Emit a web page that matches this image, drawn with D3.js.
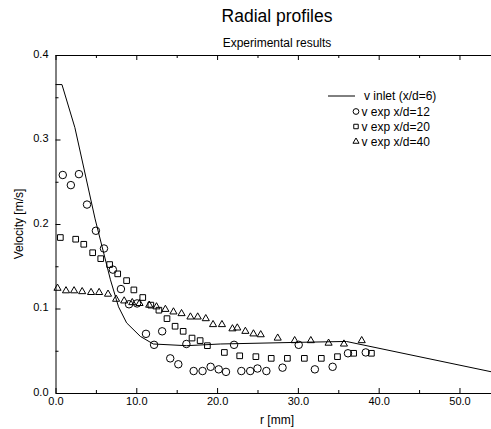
<!DOCTYPE html>
<html>
<head>
<meta charset="utf-8">
<script src="https://cdn.jsdelivr.net/npm/d3@7"></script>
<style>
  body { margin: 0; background: #fff; }
  svg { font-family: "Liberation Sans", Arial, sans-serif; }
</style>
</head>
<body>
<div id="chart"></div>
<script>
// Perfil de entrada (linea continua), x/d = 6
const rInlet = [0, 0.8, 2.4, 4.9, 6.8, 7.8, 8.8, 10.5, 12.1, 16.2, 20.4, 30.3, 36.0, 54.0];
const vInlet = [0.365, 0.365, 0.314, 0.206, 0.134, 0.102, 0.083, 0.067, 0.058, 0.056, 0.058, 0.060, 0.061, 0.025];

// Datos experimentales x/d = 12 (circulos)
const rExp12 = [0.9, 1.9, 2.9, 3.9, 5.0, 6.0, 7.1, 8.1, 9.1, 10.1, 11.2, 12.2, 13.2, 14.2, 15.2, 16.2,
  17.1, 18.2, 19.2, 20.2, 21.1, 22.1, 23.0, 24.1, 25.0, 26.1, 28.1, 30.1, 32.1, 34.3, 36.2, 38.4];
const vExp12 = [0.258, 0.246, 0.259, 0.223, 0.192, 0.171, 0.146, 0.123, 0.105, 0.106, 0.070, 0.057, 0.073, 0.041, 0.034, 0.058,
  0.026, 0.026, 0.031, 0.028, 0.025, 0.057, 0.026, 0.026, 0.029, 0.026, 0.030, 0.057, 0.028, 0.031, 0.047, 0.048];

// Datos experimentales x/d = 20 (cuadrados)
const rExp20 = [0.6, 2.5, 3.5, 4.6, 5.6, 6.7, 7.7, 8.8, 9.7, 10.8, 11.8, 12.8, 13.8, 14.8, 15.8, 16.9, 17.9, 18.8,
  20.9, 22.8, 24.8, 26.7, 28.7, 30.8, 32.9, 34.9, 36.9, 39.1];
const vExp20 = [0.184, 0.182, 0.176, 0.166, 0.159, 0.152, 0.141, 0.133, 0.122, 0.113, 0.104, 0.098, 0.088, 0.079, 0.073, 0.065, 0.062, 0.056,
  0.048, 0.044, 0.043, 0.041, 0.041, 0.041, 0.041, 0.043, 0.047, 0.047];

// Datos experimentales x/d = 40 (triangulos)
const rExp40 = [0.25, 1.3, 2.3, 3.3, 4.4, 5.4, 6.5, 7.5, 8.5, 9.5, 10.4, 11.6, 12.5, 13.6, 14.6, 15.6, 16.7, 17.6, 18.6,
  19.5, 20.6, 21.9, 22.5, 23.5, 24.5, 25.4, 27.5, 29.6, 31.6, 33.8, 35.7, 37.9];
const vExp40 = [0.124, 0.121, 0.121, 0.120, 0.119, 0.119, 0.117, 0.111, 0.109, 0.107, 0.106, 0.104, 0.102, 0.099, 0.096, 0.094, 0.090, 0.090, 0.088,
  0.081, 0.081, 0.076, 0.077, 0.073, 0.070, 0.069, 0.065, 0.062, 0.062, 0.059, 0.058, 0.062];

// Etiquetas de leyenda y ticks
const legendLabels = ["v inlet (x/d=6)", "v exp x/d=12", "v exp x/d=20", "v exp x/d=40"];
const xTicks = [0, 10, 20, 30, 40, 50];
const xMinor = [5, 15, 25, 35, 45];
const yTicks = [0, 0.1, 0.2, 0.3, 0.4];
const yMinor = [0.05, 0.15, 0.25, 0.35];

// Dimensiones del SVG y del area de dibujo
const width = 491;
const height = 429;
const plotLeft = 55.5, plotRight = 491.8, plotTop = 55, plotBottom = 393;

const svg = d3.select("#chart")
  .append("svg")
  .attr("width", width)
  .attr("height", height);

// Escalas
const xScale = d3.scaleLinear().domain([0, 54]).range([plotLeft, plotRight]);
const yScale = d3.scaleLinear().domain([0, 0.4]).range([plotBottom, plotTop]);

// Funcion para ajustar fuente de los ejes
function styleAxis(g) {
  g.attr("font-family", "Liberation Sans, Arial, sans-serif")
    .attr("font-size", 11);
  g.selectAll("line").attr("stroke", "#000");
  g.select(".domain").attr("stroke", "#000");
}

// Eje X inferior (ticks hacia dentro)
svg.append("g")
  .attr("transform", `translate(0, ${plotBottom})`)
  .call(d3.axisBottom(xScale).tickValues(xTicks).tickFormat(d3.format(".1f"))
    .tickSizeInner(-5).tickSizeOuter(0).tickPadding(4))
  .call(styleAxis);
svg.append("g")
  .attr("transform", `translate(0, ${plotBottom})`)
  .call(d3.axisBottom(xScale).tickValues(xMinor).tickFormat("")
    .tickSizeInner(-3).tickSizeOuter(0))
  .call(g => g.select(".domain").remove());

// Eje X superior (solo ticks)
svg.append("g")
  .attr("transform", `translate(0, ${plotTop})`)
  .call(d3.axisTop(xScale).tickValues(xTicks).tickFormat("")
    .tickSizeInner(-5).tickSizeOuter(0))
  .call(styleAxis);
svg.append("g")
  .attr("transform", `translate(0, ${plotTop})`)
  .call(d3.axisTop(xScale).tickValues(xMinor).tickFormat("")
    .tickSizeInner(-3).tickSizeOuter(0))
  .call(g => g.select(".domain").remove());

// Eje Y izquierdo
svg.append("g")
  .attr("transform", `translate(${plotLeft}, 0)`)
  .call(d3.axisLeft(yScale).tickValues(yTicks).tickFormat(d3.format(".1f"))
    .tickSizeInner(-5).tickSizeOuter(0).tickPadding(7))
  .call(styleAxis)
  .call(g => g.selectAll("text").attr("dy", "0.2em"));
svg.append("g")
  .attr("transform", `translate(${plotLeft}, 0)`)
  .call(d3.axisLeft(yScale).tickValues(yMinor).tickFormat("")
    .tickSizeInner(-3).tickSizeOuter(0))
  .call(g => g.select(".domain").remove());

// Titulos
svg.append("text")
  .attr("x", 277).attr("y", 21.5)
  .attr("text-anchor", "middle")
  .attr("font-size", 17.5)
  .text("Radial profiles");
svg.append("text")
  .attr("x", 277).attr("y", 46.5)
  .attr("text-anchor", "middle")
  .attr("font-size", 12)
  .text("Experimental results");

// Etiquetas de ejes
svg.append("text")
  .attr("x", 277).attr("y", 424)
  .attr("text-anchor", "middle")
  .attr("font-size", 12)
  .text("r [mm]");
svg.append("text")
  .attr("transform", "translate(23, 224) rotate(-90)")
  .attr("text-anchor", "middle")
  .attr("font-size", 12)
  .text("Velocity [m/s]");

// Linea del perfil de entrada
const inlet = rInlet.map((r, i) => [r, vInlet[i]]);
svg.append("path")
  .datum(inlet)
  .attr("fill", "none")
  .attr("stroke", "#000")
  .attr("stroke-width", 1)
  .attr("d", d3.line().x(d => xScale(d[0])).y(d => yScale(d[1])));

// Simbolos para cada serie
const series = [
  { r: rExp12, v: vExp12, shape: d3.symbol(d3.symbolCircle, 44) },
  { r: rExp20, v: vExp20, shape: d3.symbol(d3.symbolSquare, 32) },
  { r: rExp40, v: vExp40, shape: d3.symbol(d3.symbolTriangle, 22) }
];

series.forEach(s => {
  svg.append("g")
    .selectAll("path")
    .data(s.r.map((r, i) => [r, s.v[i]]))
    .enter()
    .append("path")
    .attr("transform", d => `translate(${xScale(d[0])}, ${yScale(d[1])})`)
    .attr("d", s.shape)
    .attr("fill", "none")
    .attr("stroke", "#000")
    .attr("stroke-width", 1);
});

// Leyenda
const legend = svg.append("g").attr("font-size", 12);
const legendY = [96, 111.5, 126.5, 141.5];
legend.append("line")
  .attr("x1", 328).attr("x2", 355)
  .attr("y1", legendY[0]).attr("y2", legendY[0])
  .attr("stroke", "#000");
const legendShapes = [
  d3.symbol(d3.symbolCircle, 26),
  d3.symbol(d3.symbolSquare, 20),
  d3.symbol(d3.symbolTriangle, 16)
];
legendShapes.forEach((shape, i) => {
  legend.append("path")
    .attr("transform", `translate(356, ${legendY[i + 1]})`)
    .attr("d", shape)
    .attr("fill", "none")
    .attr("stroke", "#000");
});
legendLabels.forEach((label, i) => {
  legend.append("text")
    .attr("x", i === 0 ? 364 : 361.5)
    .attr("y", legendY[i])
    .attr("dy", "0.35em")
    .text(label);
});
</script>
</body>
</html>
